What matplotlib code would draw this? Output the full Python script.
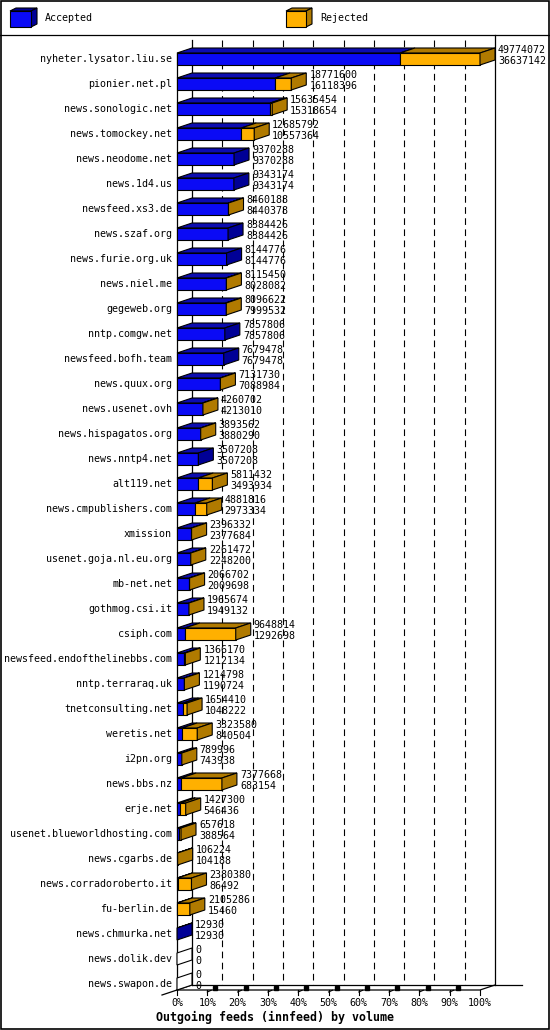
import matplotlib
matplotlib.use("Agg")
import matplotlib.pyplot as plt
from matplotlib.patches import Polygon, Rectangle

# innfeed outgoing volume per peer: first number = offered, second = accepted
hosts = [
    "nyheter.lysator.liu.se", "pionier.net.pl", "news.sonologic.net",
    "news.tomockey.net", "news.neodome.net", "news.1d4.us", "newsfeed.xs3.de",
    "news.szaf.org", "news.furie.org.uk", "news.niel.me", "gegeweb.org",
    "nntp.comgw.net", "newsfeed.bofh.team", "news.quux.org", "news.usenet.ovh",
    "news.hispagatos.org", "news.nntp4.net", "alt119.net",
    "news.cmpublishers.com", "xmission", "usenet.goja.nl.eu.org", "mb-net.net",
    "gothmog.csi.it", "csiph.com", "newsfeed.endofthelinebbs.com",
    "nntp.terraraq.uk", "tnetconsulting.net", "weretis.net", "i2pn.org",
    "news.bbs.nz", "erje.net", "usenet.blueworldhosting.com", "news.cgarbs.de",
    "news.corradoroberto.it", "fu-berlin.de", "news.chmurka.net",
    "news.dolik.dev", "news.swapon.de",
]
offered = [
    49774072, 18771600, 15635454, 12685792, 9370288, 9343174, 8460188,
    8384426, 8144776, 8115450, 8096622, 7857806, 7679478, 7131730, 4260702,
    3893562, 3507208, 5811432, 4881816, 2396332, 2261472, 2066702, 1965674,
    9648814, 1366170, 1214798, 1654410, 3323580, 789996, 7377668, 1427300,
    657618, 106224, 2380380, 2105286, 12930, 0, 0,
]
accepted = [
    36637142, 16118396, 15318654, 10557364, 9370288, 9343174, 8440378,
    8384426, 8144776, 8028082, 7999532, 7857806, 7679478, 7088984, 4213010,
    3880290, 3507208, 3493934, 2973334, 2377684, 2248200, 2009698, 1949132,
    1292698, 1212134, 1190724, 1048222, 840504, 743938, 683154, 546436,
    388564, 104188, 86492, 15460, 12930, 0, 0,
]
tick_values = list(range(0, 101, 10))
tick_labels = [f"{v}%" for v in tick_values]

BLUE, BLUE_TOP, BLUE_SIDE = "#0a0af5", "#0c0cb0", "#000096"
ORANGE, ORANGE_DARK = "#ffb000", "#b07a00"
MONO = "DejaVu Sans Mono"

W, H = 550, 1030
fig = plt.figure(figsize=(W / 100, H / 100), dpi=100)

# overlay in pixel units for frame and legend
over = fig.add_axes([0, 0, 1, 1], zorder=0)
over.set_xlim(0, W)
over.set_ylim(H, 0)
over.axis("off")
over.add_patch(Rectangle((0.5, 0.5), W - 1.5, H - 1.5, fc="none", ec="black", lw=1.2))
over.plot([0, W], [35, 35], color="black", lw=0.9)


def cube(x, y, w, h, front, dark, label):
    d, e = 6, 3
    over.add_patch(Polygon([(x, y), (x + w, y), (x + w + d, y - e), (x + d, y - e)],
                           fc=dark, ec="black", lw=0.8))
    over.add_patch(Polygon([(x + w, y), (x + w, y + h), (x + w + d, y + h - e), (x + w + d, y - e)],
                           fc=dark, ec="black", lw=0.8))
    over.add_patch(Rectangle((x, y), w, h, fc=front, ec="black", lw=0.8))
    over.text(x + w + 14, y + h / 2 - 1, label, family=MONO, fontsize=7.2, va="center")


cube(10, 11, 21, 16, BLUE, BLUE_SIDE, "Accepted")
cube(286, 11, 20, 16, ORANGE, ORANGE_DARK, "Rejected")

# main chart area: front plane spans x 177..480 px, y 40..990 px
n = len(hosts)
ax = fig.add_axes([177 / W, (H - 990) / H, 303 / W, 950 / H], zorder=1)
ax.set_xlim(0, 100)
ax.set_ylim(n - 1 + 0.24, -0.76)
ax.axis("off")

DX = 15 / 3.03   # depth offset in percent units
DY = 0.2         # depth offset in row units
floor = n - 1 + 0.24
ceil = -0.76

# walls
for v in tick_values[1:-1]:
    ax.plot([v + DX, v + DX], [ceil, floor - DY], color="black", lw=0.8,
            ls=(0, (6, 4)), clip_on=False, zorder=1)
ax.plot([100 + DX, 100 + DX], [-0.96, floor - DY], color="black", lw=0.9, clip_on=False, zorder=1)
ax.plot([DX, DX], [ceil, floor - DY], color="black", lw=0.9, clip_on=False, zorder=1)
ax.plot([0, 0], [-0.24, floor], color="black", lw=0.9, clip_on=False, zorder=1)
ax.plot([DX, 113.9], [floor - DY, floor - DY], color="black", lw=0.9, clip_on=False, zorder=1)
ax.plot([0, 100, 100 + DX], [floor, floor, floor - DY], color="black", lw=0.9, clip_on=False, zorder=1)
ax.plot([-DX, DX], [floor + DY, floor - DY], color="black", lw=0.9, clip_on=False, zorder=1)

for v, lab in zip(tick_values, tick_labels):
    ax.plot([v, v], [floor, floor + 0.2], color="black", lw=0.8, clip_on=False)
    if 0 < v < 100:
        ax.plot([v, v + 1.3], [floor + 0.08, floor + 0.01], color="black", lw=0.8, clip_on=False)
        ax.plot([v + 2.7], [floor - 0.1], marker="s", ms=2.2, color="black", clip_on=False)
    ax.text(v, floor + 0.5, lab, family=MONO, fontsize=7.2, ha="center", va="center", clip_on=False)

vmax = max(offered)


def face(pts, color):
    ax.add_patch(Polygon(pts, closed=True, fc=color, ec="black", lw=0.8,
                         clip_on=False, zorder=3))


for i, (host, tot, acc) in enumerate(zip(hosts, offered, accepted)):
    top, bot = i - 0.24, i + 0.24
    t = tot / vmax * 100
    a = acc / vmax * 100
    for x0, x1, fc, dark in [(0, a, BLUE, BLUE_TOP), (a, t, ORANGE, ORANGE_DARK)]:
        if x1 <= x0:
            continue
        face([(x0, top), (x1, top), (x1 + DX, top - DY), (x0 + DX, top - DY)], dark)
        face([(x0, top), (x1, top), (x1, bot), (x0, bot)], fc)
    if t == 0:
        side = "white"
    elif tot > acc:
        side = ORANGE_DARK
    else:
        side = BLUE_SIDE
    face([(t, top), (t, bot), (t + DX, bot - DY), (t + DX, top - DY)], side)

    ax.text(-1.65, i, host, family=MONO, fontsize=7.2, ha="right", va="center", clip_on=False)
    ax.text(t + DX + 1, i - 0.36, str(tot), family=MONO, fontsize=7.2,
            va="center", clip_on=False, zorder=4)
    ax.text(t + DX + 1, i + 0.08, str(acc), family=MONO, fontsize=7.2,
            va="center", clip_on=False, zorder=4)

fig.text(0.5, 1 - 1017 / H, "Outgoing feeds (innfeed) by volume", family=MONO,
         fontsize=8.4, fontweight="bold", ha="center", va="center")

fig.savefig("out.png", dpi=100)
